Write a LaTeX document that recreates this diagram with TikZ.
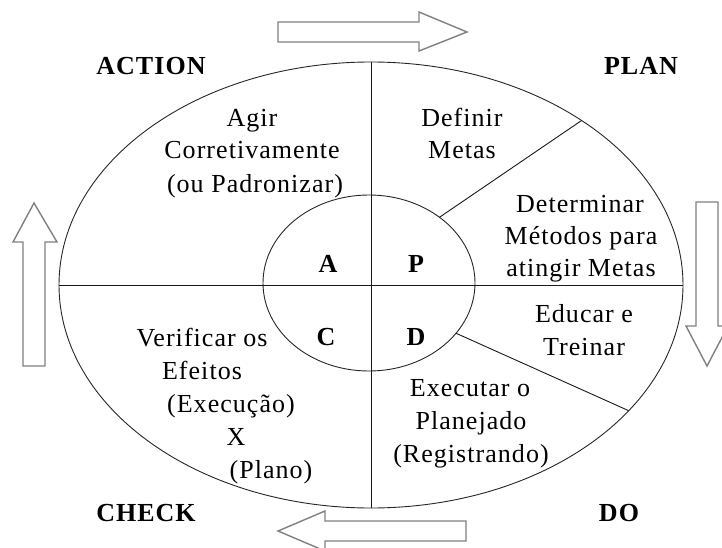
\documentclass[tikz,border=0pt]{standalone}
\usepackage{fontspec}
\setmainfont[LetterSpace=4]{Liberation Serif}
\usetikzlibrary{shapes.geometric}
\begin{document}
\begin{tikzpicture}[x=1pt,y=-1pt,
  lbl/.style={font=\fontsize{26}{33}\selectfont, inner sep=0pt, anchor=base},
  boldlbl/.style={lbl, font=\fontsize{26}{33}\selectfont\bfseries},
  ring/.style={draw=black!85, line width=0.9pt, ellipse, inner sep=0pt, outer sep=0pt},
  divider/.style={draw=black!90, line width=0.9pt},
  flow/.style={draw=black!50, line width=1.4pt, fill=white, line join=miter}]
\useasboundingbox (0,0) rectangle (722,548);

% circles
\node[ring, minimum width=624pt, minimum height=446pt] (outer) at (371,285) {};
\node[ring, minimum width=212pt, minimum height=176pt] (inner) at (369,283) {};
\draw[divider] (outer.north) -- (outer.south);
\draw[divider] (outer.west) -- (outer.east);
\draw[divider] (inner.43) -- (outer.38);
\draw[divider] (inner.-30) -- (outer.-26);

% flow arrows
\draw[flow] (278,22) -- (419,22) -- (419,12) -- (467,32) -- (419,51) -- (419,42) -- (278,42) -- cycle;
\draw[flow] (466,521) -- (325,521) -- (325,511) -- (278,531) -- (325,551) -- (325,541) -- (466,541) -- cycle;
\draw[flow] (23,366) -- (23,242) -- (13,242) -- (34,203) -- (57,242) -- (45,242) -- (45,366) -- cycle;
\draw[flow] (696,202) -- (696,326) -- (686,326) -- (707,366) -- (728,326) -- (718,326) -- (718,202) -- cycle;

% corner labels
\node[boldlbl] (action) at (151,75) {ACTION};
\node[boldlbl] (plan) at (641,75) {PLAN};
\node[boldlbl] (check) at (146,521) {CHECK};
\node[boldlbl] (do) at (619,521) {DO};

% inner letters
\node[boldlbl] (la) at (328,272) {A};
\node[boldlbl] (lp) at (416,272) {P};
\node[boldlbl] (lc) at (326,345) {C};
\node[boldlbl] (ld) at (416,345) {D};

% action quadrant
\node[lbl] (a1) at (252,127) {Agir};
\node[lbl] (a2) at (252,159) {Corretivamente};
\node[lbl] (a3) at (255,192) {(ou Padronizar)};

% plan quadrant
\node[lbl] (p1) at (462,127) {Definir};
\node[lbl] (p2) at (462,159) {Metas};
\node[lbl] (p3) at (580,212) {Determinar};
\node[lbl] (p4) at (581,244) {Métodos para};
\node[lbl] (p5) at (581,276) {atingir Metas};

% do quadrant
\node[lbl] (d1) at (584,322) {Educar e};
\node[lbl] (d2) at (584,355) {Treinar};
\node[lbl] (d3) at (470,396) {Executar o};
\node[lbl] (d4) at (471,429) {Planejado};
\node[lbl] (d5) at (471,462) {(Registrando)};

% check quadrant
\node[lbl] (c1) at (202,346) {Verificar os};
\node[lbl] (c2) at (202,379) {Efeitos};
\node[lbl] (c3) at (231,412) {(Execução)};
\node[lbl] (c4) at (236,445) {X};
\node[lbl] (c5) at (271,478) {(Plano)};
\end{tikzpicture}
\end{document}
